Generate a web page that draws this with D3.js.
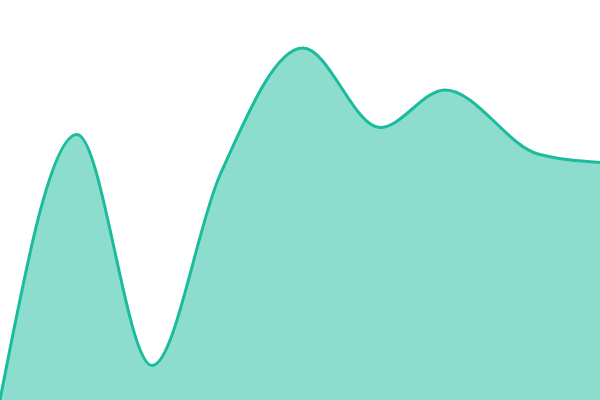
<!DOCTYPE html>
<html>
<head>
<meta charset="utf-8">
<script src="https://cdn.jsdelivr.net/npm/d3@7"></script>
<style>
  html, body { margin: 0; padding: 0; background: #fff; }
  svg { display: block; }
</style>
</head>
<body>
<svg id="chart" width="600" height="400"></svg>
<script>
// sample positions are not evenly spaced
var steps = [0, 77, 152, 220, 303, 380, 445, 538, 600]
var values = [0, 265.5, 34.5, 225, 352, 272.5, 310, 246, 237.5]

var width = 600, height = 400

var x = d3.scaleLinear().domain([0, 600]).range([0, width])
var y = d3.scaleLinear().domain([0, 400]).range([height, 0])

var data = steps.map(function(s, i) { return {s: s, v: values[i]} })

var svg = d3.select("#chart")

var area = d3.area()
    .x(function(d) { return x(d.s) })
    .y0(height)
    .y1(function(d) { return y(d.v) })
    .curve(d3.curveMonotoneX)

var line = d3.line()
    .x(function(d) { return x(d.s) })
    .y(function(d) { return y(d.v) })
    .curve(d3.curveMonotoneX)

svg.append("path").datum(data)
    .attr("d", area)
    .style("fill", "#1abc9c")
    .style("fill-opacity", 0.5)

svg.append("path").datum(data)
    .attr("d", line)
    .style("fill", "none")
    .style("stroke", "#1abc9c")
    .style("stroke-width", 3)
</script>
</body>
</html>
